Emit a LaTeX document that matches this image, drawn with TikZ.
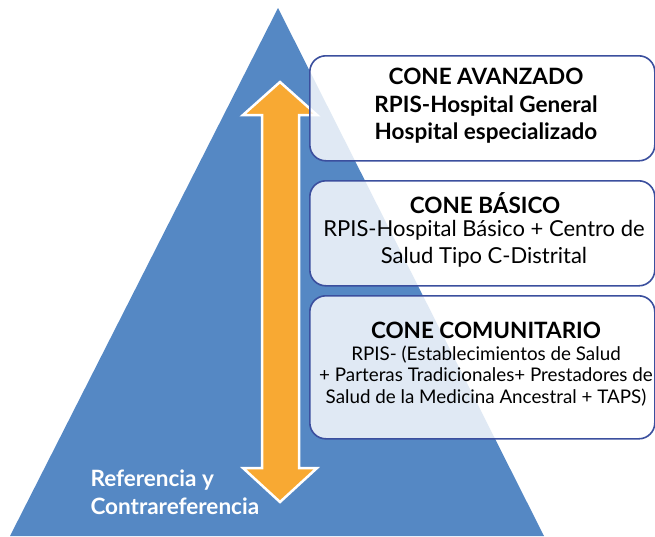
\documentclass[tikz,border=0pt]{standalone}
\usepackage{fontspec}
\setmainfont{Lato}
\definecolor{triblue}{HTML}{5588C4}
\definecolor{arrorange}{HTML}{F8A933}
\definecolor{boxedge}{HTML}{3B4F9E}
\begin{document}
\begin{tikzpicture}[x=1pt,y=-1pt,
  conebox/.style={draw=boxedge,line width=1.6pt,fill=white,fill opacity=0.82,text opacity=1,rounded corners=16pt,minimum width=345pt,anchor=north west,inner sep=0pt},
  titletext/.style={font=\bfseries\fontsize{22.5}{27.5}\selectfont,align=center,text=black},
  bodytext/.style={font=\fontsize{22}{27}\selectfont,align=center,text=black},
  smalltext/.style={font=\fontsize{18.8}{21.5}\selectfont,align=center,text=black}]
\useasboundingbox (0,0) rectangle (655,536);
% pyramid
\fill[triblue] (278,8) -- (544,536) -- (10,536) -- cycle;
% double arrow
\draw[white,line width=2.5pt,fill=arrorange,line join=miter]
  (280,82) -- (317,115) -- (299,115) -- (299,468) -- (317,468) -- (280,502)
  -- (243,468) -- (262,468) -- (262,115) -- (243,115) -- cycle;
% boxes
\node[conebox,minimum height=105pt] (b1) at (309,55) {};
\node[conebox,minimum height=105pt] (b2) at (309,180) {};
\node[conebox,minimum height=143pt] (b3) at (309,295) {};
% texts
\node[titletext] (t1) at (486,106) {CONE AVANZADO\\RPIS-Hospital General\\Hospital especializado};
\node[titletext] (t2) at (485,203) {CONE BÁSICO};
\node[bodytext] (t2b) at (484,243.5) {RPIS-Hospital Básico + Centro de\\Salud Tipo C-Distrital};
\node[titletext] (t3) at (486,330) {CONE COMUNITARIO};
\node[smalltext] (t3b) at (486,376) {RPIS- (Establecimientos de Salud\\+ Parteras Tradicionales+ Prestadores de\\Salud de la Medicina Ancestral + TAPS)};
\node[font=\bfseries\fontsize{22.5}{28}\selectfont,align=left,text=white,anchor=west] (ref) at (87,492) {Referencia y\\Contrareferencia};
\end{tikzpicture}
\end{document}
